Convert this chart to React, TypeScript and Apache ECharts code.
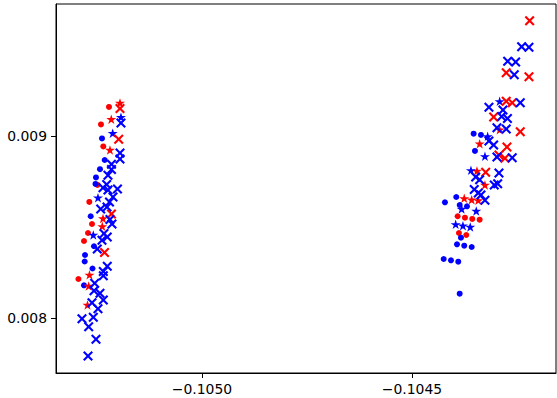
import React, { useEffect, useRef } from "react";
import * as echarts from "echarts";

// [x, y] data values
const redCircles: number[][] = [
  [-0.1052214, 0.0091593], [-0.1052405, 0.0090632], [-0.105235, 0.0089423], [-0.1052488, 0.0087308],
  [-0.1052683, 0.0086374], [-0.1052619, 0.0085165], [-0.1052714, 0.008467], [-0.105281, 0.0084231],
  [-0.1052941, 0.0082143],
  [-0.1043912, 0.0085588], [-0.1043738, 0.0085511], [-0.1043564, 0.008544], [-0.1043388, 0.0085401],
  [-0.1043881, 0.008467], [-0.1043707, 0.008456],
];

const blueCircles: number[][] = [
  [-0.1052381, 0.0089863], [-0.1052317, 0.0088681], [-0.1052429, 0.0088176], [-0.1052524, 0.008772],
  [-0.1052536, 0.0087363], [-0.105265, 0.0085588], [-0.1052571, 0.008394], [-0.1052786, 0.0083462],
  [-0.1052793, 0.0083104], [-0.1052607, 0.008272], [-0.105281, 0.0081797],
  [-0.1043531, 0.0090126], [-0.1043357, 0.0090055], [-0.10435, 0.0089176], [-0.1044214, 0.0086357],
  [-0.1043945, 0.0086648], [-0.1043864, 0.0086209], [-0.104369, 0.0086137], [-0.1043833, 0.0084412],
  [-0.1043928, 0.0084049], [-0.1043755, 0.0083973], [-0.1043578, 0.0083901], [-0.1044245, 0.0083242],
  [-0.1044071, 0.008317], [-0.1043897, 0.0083093], [-0.1043864, 0.0081335],
];

const redStars: number[][] = [
  [-0.1051952, 0.0091813], [-0.105216, 0.0090923], [-0.1052191, 0.0089231], [-0.1052357, 0.0085467],
  [-0.1052374, 0.0085038], [-0.1052679, 0.0082374], [-0.1052698, 0.0081758], [-0.1052726, 0.0080714],
  [-0.1042912, 0.0090346], [-0.1043388, 0.0089577], [-0.1043452, 0.0088077], [-0.1043262, 0.0087308],
  [-0.1043755, 0.0086577], [-0.1043578, 0.00865], [-0.1043421, 0.0086467],
];

const blueStars: number[][] = [
  [-0.1051929, 0.0091033], [-0.1052126, 0.0090154], [-0.1052476, 0.008661], [-0.1052588, 0.008456],
  [-0.1042912, 0.0091907], [-0.1043197, 0.0089984], [-0.1043262, 0.0088885], [-0.1043595, 0.0088115],
  [-0.1043817, 0.0085989], [-0.1043469, 0.0085879], [-0.1043959, 0.0085148], [-0.1043786, 0.0085071],
  [-0.1043612, 0.0085],
];

const redCrosses: number[][] = [
  [-0.1051952, 0.0091511], [-0.1051983, 0.0089824], [-0.1052155, 0.0085714], [-0.1052321, 0.0083599],
  [-0.1042198, 0.0096335], [-0.1042755, 0.0093478], [-0.1042214, 0.0093258], [-0.1042755, 0.0091907],
  [-0.1042612, 0.009183], [-0.1043055, 0.0091044], [-0.1042421, 0.0090236], [-0.1042738, 0.0089396],
  [-0.1042928, 0.0088956], [-0.1042786, 0.0088775], [-0.1043245, 0.0088006],
];

const blueCrosses: number[][] = [
  [-0.1051929, 0.0090714], [-0.1051952, 0.0089066], [-0.1051952, 0.0088736], [-0.1052155, 0.0088445],
  [-0.1052155, 0.0088159], [-0.1052238, 0.0087846], [-0.1052269, 0.0087335], [-0.1052012, 0.0087088],
  [-0.1052238, 0.0087033], [-0.1052357, 0.0087159], [-0.1052119, 0.0086648], [-0.1052202, 0.0086374],
  [-0.1052262, 0.0086099], [-0.1052412, 0.0085989], [-0.1052191, 0.0085412], [-0.1052143, 0.0085165],
  [-0.1052333, 0.0084643], [-0.1052255, 0.0084451], [-0.1052381, 0.0084269], [-0.1052493, 0.0083791],
  [-0.1052255, 0.0082841], [-0.105235, 0.0082555], [-0.105235, 0.0082324], [-0.1052555, 0.0081907],
  [-0.1052571, 0.00815], [-0.1052429, 0.0081357], [-0.105235, 0.0080989], [-0.1052619, 0.0080841],
  [-0.1052476, 0.0080511], [-0.1052857, 0.0079962], [-0.1052588, 0.0080038], [-0.1052698, 0.0079522],
  [-0.1052524, 0.007883], [-0.1052714, 0.0077912],
  [-0.1042388, 0.0094907], [-0.1042214, 0.0094874], [-0.1042721, 0.0094104], [-0.1042531, 0.0094066],
  [-0.1042564, 0.0093368], [-0.1042421, 0.009183], [-0.1043167, 0.0091577], [-0.1042833, 0.0091429],
  [-0.1042864, 0.0091071], [-0.1042726, 0.0090962], [-0.1042755, 0.0090385], [-0.1042976, 0.0090456],
  [-0.1043167, 0.0089725], [-0.1043055, 0.0089505], [-0.1042976, 0.0088846], [-0.1042612, 0.0088808],
  [-0.1042928, 0.0087967], [-0.1043483, 0.0087747], [-0.1043388, 0.0087599], [-0.104304, 0.0087308],
  [-0.1042959, 0.0087379], [-0.1043517, 0.008706], [-0.1043421, 0.0086868], [-0.1043357, 0.0086758],
  [-0.1043262, 0.0086467],
];

const xTicks = [-0.105, -0.1045];
const yTicks = [0.008, 0.009];

const STAR =
  "path://M50,0L61.23,34.55L97.55,34.55L68.17,55.9L79.39,90.45L50,69.1L20.61,90.45L31.83,55.9L2.45,34.55L38.77,34.55Z";
const CROSS =
  "path://M0,1.5L1.5,0L5,3.5L8.5,0L10,1.5L6.5,5L10,8.5L8.5,10L5,6.5L1.5,10L0,8.5L3.5,5Z";

export default function App() {
  const ref = useRef<HTMLDivElement>(null);
  useEffect(() => {
    if (!ref.current) return;
    const chart = echarts.init(ref.current, null, { renderer: "svg" });
    const mk = (data: number[][], color: string, symbol: string, size: any) => ({
      type: "scatter",
      data,
      symbol,
      symbolSize: size,
      itemStyle: { color, opacity: 1 },
      emphasis: { disabled: true },
    });
    chart.setOption({
      animation: false,
      grid: {
        left: 56,
        right: 1,
        top: 4,
        bottom: 25,
        show: true,
        borderColor: "#000",
        borderWidth: 1,
        backgroundColor: "transparent",
      },
      xAxis: {
        type: "value",
        min: -0.1053476,
        max: -0.104157,
        splitLine: { show: false },
        axisLine: { show: true, lineStyle: { color: "#000", width: 1 } },
        axisTick: { show: true, length: 5, lineStyle: { color: "#000" }, customValues: xTicks },
        axisLabel: {
          customValues: xTicks,
          color: "#000",
          fontSize: 13.9,
          fontFamily: "DejaVu Sans",
          margin: 9,
          formatter: (v: number) => v.toFixed(4).replace("-", "\u2212"),
        },
      },
      yAxis: {
        type: "value",
        min: 0.0076978,
        max: 0.009725,
        splitLine: { show: false },
        axisLine: { show: true, lineStyle: { color: "#000", width: 1 } },
        axisTick: { show: true, length: 5, lineStyle: { color: "#000" }, customValues: yTicks },
        axisLabel: {
          customValues: yTicks,
          color: "#000",
          fontSize: 13.9,
          fontFamily: "DejaVu Sans",
          margin: 9,
          formatter: (v: number) => v.toFixed(3),
        },
      },
      series: [
        mk(redCircles, "#ff0000", "circle", 6),
        mk(blueCircles, "#0000ff", "circle", 6),
        mk(redStars, "#ff0000", STAR, [10, 9.5]),
        mk(blueStars, "#0000ff", STAR, [10, 9.5]),
        mk(redCrosses, "#ff0000", CROSS, 10),
        mk(blueCrosses, "#0000ff", CROSS, 10),
      ],
    });
    return () => chart.dispose();
  }, []);
  return (
    <div
      ref={ref}
      style={{ position: "fixed", left: 0, top: 0, width: 557, height: 398, background: "#fff" }}
    />
  );
}
